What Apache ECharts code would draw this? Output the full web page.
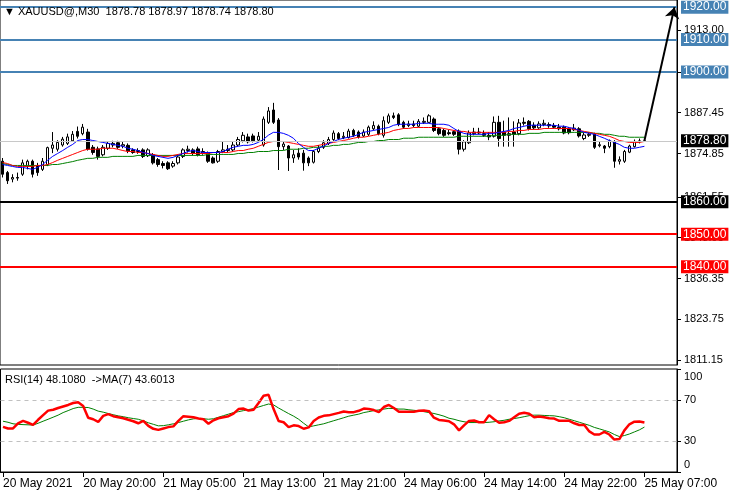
<!DOCTYPE html>
<html><head><meta charset="utf-8">
<script src="https://cdn.jsdelivr.net/npm/echarts@6/dist/echarts.min.js"></script>
<style>html,body{margin:0;padding:0;background:#fff}#c{width:734px;height:493px}</style>
</head><body><div id="c"></div>
<script>
// ---- data ----
const symbolTitle = '▼ XAUUSD@,M30  1878.78 1878.97 1878.74 1878.80';
const rsiTitle = 'RSI(14) 48.1080  ->MA(7) 43.6013';
const slotCount = 135; // bar slots incl. empty space right of last bar
const timeLabels = ['20 May 2021','20 May 20:00','21 May 05:00','21 May 13:00','21 May 21:00','24 May 06:00','24 May 14:00','24 May 22:00','25 May 07:00'];
const labelEvery = 16;
// [open, high, low, close]
const ohlc = [
[1872.5,1873.5,1867.5,1868.5],[1869,1869.5,1865.5,1866.5],[1867,1868.5,1866,1867.5],[1867.5,1869,1866.5,1867.3],[1868.5,1873,1868,1872],
[1871,1873,1870,1872.5],[1872.5,1873,1867.5,1868.5],[1871,1872,1868,1869],[1870,1873.5,1869.5,1872.5],[1871.5,1877,1871,1876.7],
[1876.5,1881.5,1875,1877.5],[1876.2,1879,1875.5,1878.3],[1877.5,1880,1877,1879.3],[1878,1881,1877.5,1880],[1878.8,1881.8,1878.5,1880.8],
[1881.7,1883.2,1879.5,1880.2],[1881,1884,1880.5,1883],[1881.5,1882.5,1875.8,1876.2],[1876.8,1877.5,1874.5,1875.2],[1876.3,1877,1873,1874],
[1874.5,1877.5,1874,1876.8],[1876.5,1878.5,1876,1878],[1877.5,1878.8,1876.8,1878],[1878.2,1878.8,1876.3,1876.8],[1877.2,1878.5,1876.5,1877.6],
[1877.4,1878,1875,1875.7],[1876,1876.5,1874.8,1875.2],[1875.5,1876.5,1874.8,1875.8],[1876,1876.5,1873.5,1874],[1874.2,1876.5,1873.8,1876],
[1874.5,1875,1871.5,1872],[1873,1873.5,1870.8,1871.5],[1871.8,1872.5,1870.3,1871.2],[1872,1872.5,1869.8,1870.2],[1871,1872.5,1870.5,1871.8],
[1872,1874.3,1871.5,1873.8],[1874,1876.5,1873.5,1876],[1875.8,1877.3,1875.2,1876.2],[1876,1876.5,1874.3,1875],[1876.3,1877,1874,1874.5],
[1875,1876.5,1874.5,1875.5],[1875,1875.5,1872,1872.5],[1873.5,1874,1871.8,1872],[1872.5,1876,1872,1875.5],[1875.5,1878.5,1875,1876],
[1875.8,1877.5,1875.3,1876.2],[1876,1878.5,1875.5,1877.5],[1877.5,1880,1877,1879.2],[1878.8,1881.5,1878.3,1880.5],[1880,1881,1878,1878.5],
[1880.3,1881,1878.3,1878.8],[1879,1881.5,1878.5,1880.2],[1877.5,1886.3,1877,1885.5],[1884.5,1889.2,1884,1888],[1888.3,1890.5,1884,1884.5],
[1885.2,1885.8,1869.8,1877],[1877,1878.5,1876,1877.8],[1877.2,1877.5,1869.5,1873.5],[1873.5,1876,1872,1874.5],[1875,1876.5,1873,1873.8],
[1875,1876,1869.6,1872],[1873.5,1874,1871,1872],[1872.2,1876,1871.8,1875.5],[1875.5,1877.5,1875,1876.5],[1876.8,1879,1876.3,1878.2],
[1878,1880,1877.5,1879.2],[1879.2,1882,1878.8,1881.2],[1881,1881.5,1879,1879.5],[1879.8,1881.5,1879.3,1880.2],[1879.8,1882.5,1879.5,1881.8],
[1882,1882.5,1880,1880.5],[1881.5,1882,1879.5,1880],[1880.3,1882.3,1880,1881.5],[1880.8,1883.5,1880.3,1883],[1882.5,1884.8,1882,1883.5],
[1883.3,1883.8,1880.5,1881],[1880.5,1886.3,1879.8,1885],[1884.5,1887.2,1884,1886.5],[1886.5,1887.5,1885.5,1886],[1886.8,1887.3,1883.3,1883.8],
[1884.5,1885,1882.5,1883],[1883.5,1885,1883,1884],[1884,1885,1883,1883.5],[1883.3,1885.5,1883,1884.8],[1884.5,1886,1884,1884.8],
[1884.5,1887,1884.3,1886.5],[1885.5,1886,1881.5,1882],[1882.5,1883,1880.5,1881],[1882,1882.5,1880,1880.5],[1881.3,1882.2,1880.5,1881],
[1881.6,1882,1880.3,1880.8],[1881.8,1882.3,1874.6,1876.2],[1876.2,1879,1875.5,1878.5],[1878.2,1882,1877.8,1881.2],[1881,1882.8,1880.5,1881.5],
[1881.5,1882.8,1880.8,1881.2],[1881,1882,1880,1880.5],[1880.5,1881.5,1879,1880],[1880.2,1886.3,1879.8,1884.5],[1884.5,1886.5,1877,1879.5],
[1881.5,1885,1877,1880.5],[1880.5,1886,1877,1881],[1881.5,1884.8,1877,1880.8],[1881,1885.5,1880.5,1884.3],[1884.5,1886,1883.5,1884.2],
[1884.8,1885.2,1882,1882.5],[1883.6,1884.5,1882.3,1882.8],[1882.8,1884.8,1882.5,1884],[1883.8,1885.3,1883.3,1884.2],[1883.8,1884.5,1882.8,1883.4],
[1883.5,1884.3,1882.5,1883],[1883,1884,1882,1882.5],[1883,1883.5,1880.8,1881.2],[1882.5,1883,1880.8,1881.3],[1882.2,1884,1881.8,1882.7],
[1882.5,1883,1879.8,1880.3],[1879.5,1881.3,1879,1880.6],[1880.5,1881.5,1880,1880.8],[1880.9,1881.3,1876.3,1876.8],[1877.3,1878.5,1876.8,1877.6],
[1877.2,1877.5,1875,1876.5],[1877,1879.2,1876.5,1878.8],[1878.5,1879,1870.5,1872.5],[1872.5,1874,1871.5,1873],[1872.5,1876,1872,1875.5],
[1875.3,1877.6,1875,1877.2],[1877,1879.2,1876.7,1878.6],[1878.5,1879.5,1878,1878.8],[1878.78,1878.97,1878.74,1878.80]
];
const maFast = [
1871.5,1871.2,1870.9,1870.6,1870.6,1870.3,1870.0,1870.6,1871.5,1872.8,
1874.0,1874.9,1875.8,1876.8,1877.7,1878.9,1879.2,1879.2,1878.9,1878.6,
1878.3,1878.0,1877.7,1877.4,1877.1,1876.5,1876.2,1875.8,1875.2,1874.9,
1874.3,1874.0,1873.7,1873.4,1873.7,1874.3,1874.9,1875.5,1875.8,1875.5,
1875.2,1875.2,1875.2,1875.2,1875.5,1876.2,1876.8,1877.1,1877.4,1877.4,
1877.7,1878.3,1879.2,1880.5,1881.4,1881.4,1881.1,1880.5,1879.6,1878.0,
1876.8,1875.8,1875.8,1876.5,1877.1,1878.0,1878.6,1879.2,1879.6,1879.9,
1880.2,1880.8,1881.4,1881.7,1882.0,1882.3,1882.6,1882.9,1883.6,1883.9,
1883.9,1883.9,1883.9,1884.2,1884.2,1884.2,1883.9,1883.9,1883.9,1883.6,
1882.6,1881.7,1881.1,1880.8,1880.8,1880.8,1880.8,1881.1,1881.1,1881.4,
1881.7,1882.0,1882.6,1882.9,1883.3,1883.6,1883.6,1883.6,1883.6,1883.6,
1883.6,1883.3,1883.3,1882.9,1882.6,1882.0,1881.4,1881.1,1880.8,1880.2,
1879.6,1878.9,1878.3,1877.7,1876.8,1876.5,1876.5,1876.8,1877.1
];
const maMid = [
1872.1,1871.8,1871.2,1870.9,1870.9,1870.9,1870.9,1871.2,1871.2,1871.5,
1872.1,1872.8,1873.4,1874.0,1874.6,1875.2,1875.8,1876.2,1876.2,1876.2,
1876.5,1876.5,1876.5,1876.2,1875.8,1875.5,1875.5,1875.2,1875.2,1874.9,
1874.6,1874.3,1874.0,1874.0,1874.3,1874.6,1874.9,1874.9,1874.9,1874.9,
1874.9,1874.9,1875.2,1875.2,1875.2,1875.2,1875.5,1875.8,1875.8,1876.2,
1876.5,1877.1,1877.7,1878.3,1878.6,1878.6,1878.6,1878.3,1878.0,1877.7,
1877.4,1877.1,1877.1,1877.4,1877.7,1878.0,1878.3,1878.6,1878.9,1879.2,
1879.6,1879.9,1879.9,1880.2,1880.5,1880.8,1881.1,1881.4,1882.0,1882.3,
1882.6,1882.6,1882.9,1882.9,1882.9,1882.9,1882.9,1882.9,1882.6,1882.3,
1882.0,1881.7,1881.7,1881.4,1881.4,1881.4,1881.4,1881.4,1881.4,1881.4,
1881.4,1881.7,1881.7,1882.0,1882.0,1882.3,1882.3,1882.3,1882.6,1882.6,
1882.6,1882.6,1882.6,1882.6,1882.3,1882.0,1881.7,1881.4,1881.1,1880.8,
1880.5,1880.2,1879.6,1878.9,1878.6,1878.3,1878.3,1878.3,1878.6
];
const maSlow = [
1871.8,1871.5,1871.2,1871.2,1871.2,1871.2,1871.2,1871.2,1871.2,1871.2,
1871.5,1871.5,1871.8,1872.1,1872.4,1872.8,1873.1,1873.4,1873.4,1873.7,
1873.7,1873.7,1874.0,1874.0,1874.0,1874.0,1874.0,1874.3,1874.3,1874.3,
1874.3,1874.3,1874.3,1874.3,1874.3,1874.3,1874.3,1874.3,1874.3,1874.3,
1874.3,1874.6,1874.6,1874.6,1874.6,1874.6,1874.6,1874.9,1874.9,1875.2,
1875.2,1875.5,1875.5,1875.5,1875.8,1875.8,1875.8,1876.2,1876.2,1876.2,
1876.5,1876.5,1876.8,1876.8,1877.1,1877.1,1877.4,1877.4,1877.7,1877.7,
1878.0,1878.3,1878.3,1878.6,1878.6,1878.9,1878.9,1879.2,1879.2,1879.2,
1879.6,1879.6,1879.6,1879.9,1879.9,1879.9,1879.9,1879.9,1879.9,1879.9,
1879.9,1880.2,1880.2,1880.2,1880.2,1880.2,1880.2,1880.2,1880.5,1880.5,
1880.5,1880.8,1880.8,1880.8,1880.8,1881.1,1881.1,1881.1,1881.4,1881.4,
1881.4,1881.4,1881.4,1881.4,1881.4,1881.4,1881.4,1881.4,1881.1,1881.1,
1880.8,1880.8,1880.5,1880.2,1880.2,1879.9,1879.9,1879.9,1879.9
];
const rsiValues = [
43.8,42.3,42.3,47.3,49.6,47.8,45.8,50.7,55.2,59.6,
60.4,62.1,63.6,65.1,67.0,67.7,64.1,52.7,51.2,48.6,
54.5,56.2,54.2,53.2,52.2,50.7,49.3,47.3,49.6,44.8,
41.9,40.9,42.3,43.6,44.3,49.6,54.2,53.7,53.2,51.9,
51.2,46.9,50.2,52.2,53.2,54.2,56.6,61.1,61.6,59.6,
60.4,67.0,74.0,74.9,61.1,49.5,48.3,43.6,45.3,44.6,
42.0,43.3,49.6,52.9,54.5,55.0,56.2,57.4,58.8,58.1,
58.1,59.4,61.6,61.1,60.1,58.1,63.1,65.1,62.1,58.4,
58.4,58.4,58.6,59.4,59.6,59.1,52.7,50.5,49.9,49.3,
46.3,40.4,45.3,49.6,50.0,48.3,48.3,55.2,51.2,47.8,
48.3,49.6,53.2,56.6,57.6,56.6,53.2,53.9,53.2,52.2,
51.9,49.7,49.7,49.7,47.3,45.6,45.6,39.4,36.4,36.4,
38.9,36.4,31.5,32.0,40.4,46.3,48.8,49.0,48.108
];
const rsiMaValues = [
49.3,48.3,46.8,46.3,46.0,45.8,45.6,47.3,49.3,51.2,
53.2,55.2,57.7,59.6,61.6,62.8,62.8,62.6,61.1,59.1,
58.1,56.8,55.6,54.5,53.7,52.7,51.9,51.2,49.7,47.8,
46.3,44.8,45.0,45.8,46.8,48.0,49.3,50.6,51.6,52.0,
51.7,51.2,51.7,53.2,54.7,56.2,57.7,58.6,59.6,60.6,
61.6,63.1,64.6,66.0,65.1,62.1,59.4,56.7,54.2,51.2,
47.3,43.8,44.8,45.8,46.8,48.3,49.8,51.2,52.7,54.2,
55.2,56.2,57.7,58.6,59.6,60.3,61.1,61.8,61.6,61.1,
61.1,60.4,59.9,59.4,58.6,57.7,56.8,55.6,54.2,52.2,
51.2,49.8,48.8,48.0,48.0,48.0,48.0,48.3,48.8,49.6,
50.2,51.2,51.9,52.7,53.7,54.7,55.2,55.2,54.9,54.7,
54.5,53.7,52.7,51.2,49.8,48.3,46.8,45.3,43.3,41.9,
40.4,38.9,36.4,34.4,35.4,36.9,38.9,40.9,43.6013
];
const resistanceLevels = [1920, 1910, 1900];
const pivotLevels = [1860];
const supportLevels = [1850, 1840];
const lastPrice = 1878.80;
const arrowTarget = 1920;
const arrowEndSlot = 134;
const priceTicks = [1811.15, 1823.75, 1836.35, 1848.95, 1861.55, 1874.85, 1887.45, 1900.05, 1913.00];
const rsiTicks = [0, 30, 70, 100];
const rsiLevels = [70, 30];

// ---- chart ----
const FONT = 'Liberation Sans, Arial, sans-serif';
const categories = Array.from({length: slotCount}, (_, i) => String(i));
const candleData = ohlc.map(([o, h, l, c]) => [o, c, l, h]);
const lastIdx = ohlc.length - 1;

function levelItem(v, color, width, lineColor) {
  return {
    yAxis: v,
    lineStyle: {color: lineColor || color, width: width, type: 'solid'},
    label: {
      show: true, position: 'end', distance: 4,
      formatter: v.toFixed(2), color: '#fff', backgroundColor: color,
      padding: [1, 2, 0, 2], fontSize: 12, fontFamily: FONT
    }
  };
}
const levelData = [
  levelItem(lastPrice, '#000', 1, '#c8c8c8'),
  ...resistanceLevels.map(v => levelItem(v, '#4682b4', 2)),
  ...pivotLevels.map(v => levelItem(v, '#000', 2)),
  ...supportLevels.map(v => levelItem(v, '#ff0000', 2))
];

const chart = echarts.init(document.getElementById('c'), null, {renderer: 'canvas'});
chart.setOption({
  animation: false,
  backgroundColor: '#fff',
  title: [
    {text: symbolTitle, left: 4, top: 6, padding: 0,
     textStyle: {fontSize: 11, fontWeight: 'normal', color: '#000', fontFamily: FONT}},
    {text: rsiTitle, left: 5, top: 374, padding: 0,
     textStyle: {fontSize: 11, fontWeight: 'normal', color: '#000', fontFamily: FONT}}
  ],
  grid: [
    {left: 0, top: 0, width: 677, height: 365, show: true, borderColor: '#000', borderWidth: 1, backgroundColor: '#fff'},
    {left: 0, top: 369, width: 677, height: 103, show: true, borderColor: '#000', borderWidth: 1, backgroundColor: '#fff'}
  ],
  xAxis: [
    {type: 'category', gridIndex: 0, data: categories, boundaryGap: true, show: false},
    {type: 'category', gridIndex: 1, data: categories, boundaryGap: true,
     axisLine: {show: true, lineStyle: {color: '#000', width: 1}},
     axisTick: {show: true, alignWithLabel: true, length: 5, lineStyle: {color: '#000'},
                interval: (i) => i % labelEvery === 0 && i <= lastIdx},
     axisLabel: {show: true, interval: (i) => i % labelEvery === 0 && i <= lastIdx,
                 formatter: (v, i) => timeLabels[i / labelEvery] || '',
                 align: 'left', margin: 6, fontSize: 12, color: '#000', fontFamily: FONT},
     splitLine: {show: false}}
  ],
  yAxis: [
    {type: 'value', gridIndex: 0, position: 'right', min: 1809.7, max: 1922.2, scale: true,
     axisLine: {show: true, lineStyle: {color: '#000'}},
     axisTick: {show: true, length: 4, customValues: priceTicks, lineStyle: {color: '#000'}},
     axisLabel: {show: true, customValues: priceTicks, formatter: v => v.toFixed(2), margin: 7,
                 fontSize: 11, color: '#000', fontFamily: FONT},
     splitLine: {show: false}},
    {type: 'value', gridIndex: 1, position: 'right', min: 0, max: 100,
     axisLine: {show: true, lineStyle: {color: '#000'}},
     axisTick: {show: true, length: 4, customValues: rsiTicks, lineStyle: {color: '#000'}},
     axisLabel: {show: true, customValues: rsiTicks, margin: 7,
                 formatter: v => v === 100 ? '{top|100}' : (v === 0 ? '{bot|0}' : '{mid|' + v + '}'),
                 rich: {
                   top: {padding: [16, 0, 0, 0], fontSize: 11, color: '#000', fontFamily: FONT},
                   bot: {padding: [0, 0, 14, 0], fontSize: 11, color: '#000', fontFamily: FONT},
                   mid: {fontSize: 11, color: '#000', fontFamily: FONT}
                 }},
     splitLine: {show: false}}
  ],
  series: [
    {type: 'candlestick', xAxisIndex: 0, yAxisIndex: 0, data: candleData, barWidth: 3,
     itemStyle: {color: '#fff', color0: '#000', borderColor: '#000', borderColor0: '#000', borderWidth: 1},
     silent: true,
     markLine: {silent: true, symbol: 'none', animation: false, data: levelData, z: 5}},
    {type: 'line', xAxisIndex: 0, yAxisIndex: 0, data: maSlow, symbol: 'none', silent: true,
     lineStyle: {color: '#008000', width: 1}},
    {type: 'line', xAxisIndex: 0, yAxisIndex: 0, data: maMid, symbol: 'none', silent: true,
     lineStyle: {color: '#ff0000', width: 1}},
    {type: 'line', xAxisIndex: 0, yAxisIndex: 0, data: maFast, symbol: 'none', silent: true,
     lineStyle: {color: '#0000ff', width: 1},
     markLine: {silent: true, animation: false, symbolSize: 11,
       data: [[{coord: [lastIdx, lastPrice], symbol: 'none'},
               {coord: [arrowEndSlot, arrowTarget], symbol: 'arrow'}]],
       lineStyle: {color: '#000', width: 2, type: 'solid'}, label: {show: false}}},
    {type: 'line', xAxisIndex: 1, yAxisIndex: 1, data: rsiMaValues, symbol: 'none', silent: true,
     lineStyle: {color: '#008000', width: 1},
     markLine: {silent: true, symbol: 'none', animation: false, label: {show: false},
       lineStyle: {color: '#c0c0c0', width: 1, type: [4, 4]},
       data: rsiLevels.map(v => ({yAxis: v}))}},
    {type: 'line', xAxisIndex: 1, yAxisIndex: 1, data: rsiValues, symbol: 'none', silent: true,
     lineStyle: {color: '#ff0000', width: 2.5}}
  ]
});
</script>
</body></html>
